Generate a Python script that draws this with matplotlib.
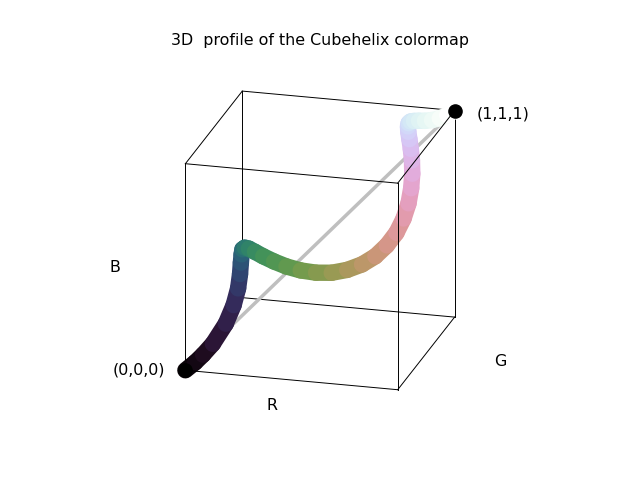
import matplotlib
matplotlib.use('Agg')
import matplotlib.pyplot as plt

# colour levels read along the tube, dark end to light end
red = [0, .042, .076, .117, .168, .194, .203, .199, .189, .178, .168, .165, .172, .190, .220,
       .264, .318, .382, .453, .527, .601, .672, .736, .791, .836, .868, .888, .896, .895,
       .886, .872, .856, .841, .830, .824, .824, .833, .850, .873, .902, .935, .968, 1]
green = [0, .014, .027, .046, .083, .124, .169, .218, .270, .324, .376, .427, .473, .513, .547,
         .573, .590, .601, .606, .605, .602, .597, .592, .589, .590, .596, .608, .625, .648,
         .676, .708, .743, .779, .815, .849, .881, .909, .933, .952, .968, .981, .991, 1]
blue = [0, .037, .073, .123, .212, .290, .356, .408, .444, .464, .469, .459, .439, .411, .380,
        .350, .325, .308, .302, .309, .331, .366, .413, .472, .537, .607, .678, .746, .808,
        .862, .905, .938, .960, .972, .975, .972, .966, .960, .955, .956, .963, .978, 1]

# cube edges, pairs of corners
corners = [(0, 0, 0), (1, 0, 0), (1, 1, 0), (0, 1, 0),
           (0, 0, 1), (1, 0, 1), (1, 1, 1), (0, 1, 1)]
edges = [(0, 1), (1, 2), (2, 3), (3, 0), (4, 5), (5, 6), (6, 7), (7, 4),
         (0, 4), (1, 5), (2, 6), (3, 7)]
front_edges = [(1, 5), (5, 6), (4, 5), (0, 1), (1, 2)]

fig = plt.figure(figsize=(6.4, 4.8), dpi=100)
ax = fig.add_axes([0.125 - 13 / 640, 0.11 - 3 / 480, 0.775, 0.77], projection='3d', proj_type='ortho')
ax.computed_zorder = False
ax.view_init(elev=20, azim=-75)
ax.set_xlim(0, 1)
ax.set_ylim(0, 1)
ax.set_zlim(0, 1)
ax.set_box_aspect((1, 1, 1), zoom=1.0)
ax.set_axis_off()

for a, b in edges:
    z = 200 if (a, b) in front_edges else 1
    ax.plot(*zip(corners[a], corners[b]), color='k', lw=0.7, zorder=z)

# gray diagonal
ax.plot([0, 1], [0, 1], [0, 1], color='0.75', lw=2.5, zorder=2)

# the tube itself
for i in range(len(red) - 1):
    ax.plot(red[i:i + 2], green[i:i + 2], blue[i:i + 2], color=(red[i + 1], green[i + 1], blue[i + 1]),
            lw=11.8, solid_capstyle='round', zorder=3 + i)

ax.scatter([0, 1], [0, 1], [0, 1], c='k', s=90, depthshade=False, zorder=100)

fig.text(0.5, 1 - 40 / 480, '3D  profile of the Cubehelix colormap', ha='center', va='center', fontsize=11.4)
fig.text(272 / 640, 1 - 406 / 480, 'R', ha='center', va='center', fontsize=11.4)
fig.text(500 / 640, 1 - 361 / 480, 'G', ha='center', va='center', fontsize=11.4)
fig.text(115 / 640, 1 - 268 / 480, 'B', ha='center', va='center', fontsize=11.4)
fig.text(139 / 640, 1 - 370 / 480, '(0,0,0)', ha='center', va='center', fontsize=11.4)
fig.text(503 / 640, 1 - 114 / 480, '(1,1,1)', ha='center', va='center', fontsize=11.4)

plt.savefig('out.png', dpi=100)
